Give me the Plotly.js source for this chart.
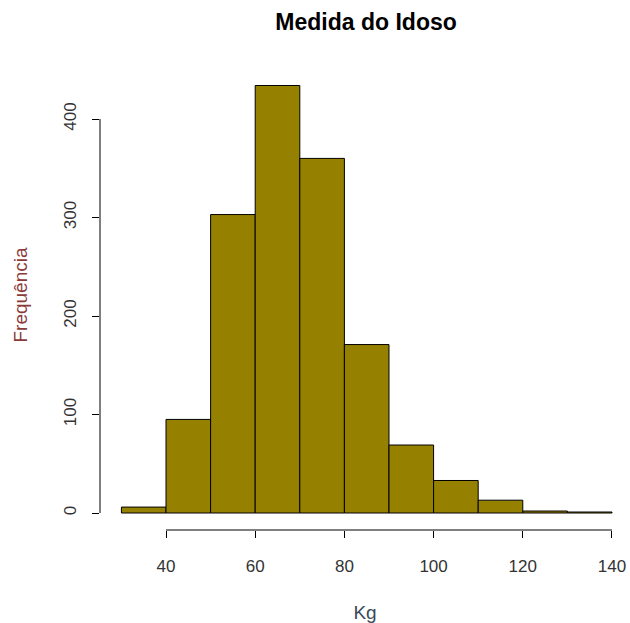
<!DOCTYPE html>
<html>
<head>
<meta charset="utf-8">
<script src="https://cdn.plot.ly/plotly-3.0.1.min.js"></script>
<style>html,body{margin:0;padding:0;background:#fff;}#chart{width:630px;height:623px;}</style>
</head>
<body>
<div id="chart"></div>
<script>
// Data
var binEdges = [30, 40, 50, 60, 70, 80, 90, 100, 110, 120, 130, 140];
var counts = [6, 95, 303, 434, 360, 171, 69, 33, 13, 2, 1];
var xTicks = [40, 60, 80, 100, 120, 140];
var yTicks = [0, 100, 200, 300, 400];

var mids = [], widths = [];
for (var i = 0; i < counts.length; i++) {
  mids.push((binEdges[i] + binEdges[i + 1]) / 2);
  widths.push(binEdges[i + 1] - binEdges[i]);
}

var trace = {
  type: 'bar',
  x: mids,
  y: counts,
  width: widths,
  marker: { color: '#958000', line: { color: '#000000', width: 1 } },
  hoverinfo: 'x+y'
};

var font = 'Liberation Sans, Arial, sans-serif';
var layout = {
  width: 630, height: 623,
  margin: { l: 100, r: 0, t: 60, b: 93 },
  paper_bgcolor: '#ffffff', plot_bgcolor: '#ffffff',
  showlegend: false,
  title: { text: '<b>Medida do Idoso</b>', x: 0.502, xref: 'paper', y: 0.964, yref: 'container', yanchor: 'middle',
           font: { family: font, size: 23, color: '#000000' } },
  xaxis: {
    range: [25.2, 144.04], showgrid: false, zeroline: false, showline: false,
    tickmode: 'array', tickvals: xTicks, ticktext: xTicks.map(String),
    ticks: 'outside', ticklen: 7, tickwidth: 1, tickcolor: '#000',
    ticklabelstandoff: 14,
    tickfont: { family: font, size: 17, color: '#333333' },
    title: { text: 'Kg', standoff: 30, font: { family: font, size: 19, color: '#3a4a5a' } }
  },
  yaxis: {
    range: [-17.26, 459.9], showgrid: false, zeroline: false, showline: false,
    tickmode: 'array', tickvals: yTicks, ticktext: yTicks.map(String),
    ticks: 'outside', ticklen: 7, tickwidth: 1, tickcolor: '#000',
    tickangle: -90, ticklabelstandoff: 9,
    tickfont: { family: font, size: 17, color: '#333333' },
    title: { text: 'Frequência', standoff: 28, font: { family: font, size: 19, color: '#8b3a3a' } }
  },
  shapes: [
    { type: 'line', xref: 'x', yref: 'paper', x0: xTicks[0], x1: xTicks[xTicks.length - 1], y0: 0, y1: 0,
      line: { color: '#000', width: 1 } },
    { type: 'line', xref: 'paper', yref: 'y', x0: 0, x1: 0, y0: yTicks[0], y1: yTicks[yTicks.length - 1],
      line: { color: '#000', width: 1 } }
  ]
};

Plotly.newPlot('chart', [trace], layout, { displayModeBar: false, staticPlot: true });
</script>
</body>
</html>
